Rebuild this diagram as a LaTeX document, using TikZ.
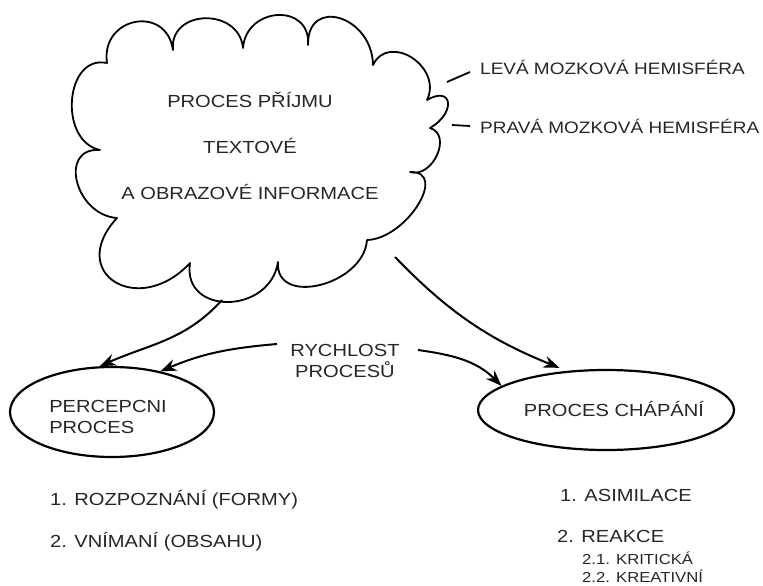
\documentclass[tikz,border=0pt]{standalone}
\usepackage{fontspec}
\setmainfont{Liberation Sans}[FakeStretch=1.15]
\usetikzlibrary{arrows.meta,shapes.geometric}
\tikzset{
  txt/.style={inner sep=0pt, text=black!85, font=\fontsize{17.5}{21}\selectfont},
  smalltxt/.style={inner sep=0pt, text=black!85, font=\fontsize{14.5}{17}\selectfont},
  hemtxt/.style={inner sep=0pt, text=black!85, font=\fontsize{16.5}{20}\selectfont},
  cloudline/.style={line width=1.8pt, line join=round},
  oval/.style={ellipse, draw, line width=2.2pt, inner sep=0pt},
  arr/.style={line width=2pt, -{Stealth[length=16pt,width=12pt]}},
  thin/.style={line width=1.8pt}
}
\begin{document}
\begin{tikzpicture}[x=1pt,y=-1pt]
\useasboundingbox (0,0) rectangle (763,586);
% cloud
\draw[cloudline] (107,63)
 .. controls (100.3,17) and (166.3,4) .. (173,50)
 .. controls (169,9) and (239,7) .. (243,48)
 .. controls (246.3,6) and (311.3,3) .. (308,45)
 .. controls (307.3,-4) and (372.3,16) .. (373,65)
 .. controls (389,32) and (443,67) .. (427,100)
 .. controls (453,85) and (456,113) .. (430,128)
 .. controls (452.7,134.7) and (432.7,178.7) .. (410,172)
 .. controls (449,171) and (406,239) .. (367,240)
 .. controls (363.7,285.3) and (274.7,307.3) .. (278,262)
 .. controls (270,314.7) and (182,315.7) .. (190,263)
 .. controls (138.7,318.3) and (65.7,273.3) .. (117,218)
 .. controls (75,215) and (58,147) .. (100,150)
 .. controls (58,141) and (65,54) .. (107,63) -- cycle;
\node[txt, align=center, font=\fontsize{17.5}{46}\selectfont] (ct) at (250,146)
  {PROCES PŘÍJMU\\TEXTOVÉ\\A OBRAZOVÉ INFORMACE};
% hemispheres
\coordinate (h1a) at (447,82);
\coordinate (h1b) at (470,72);
\coordinate (h2a) at (452,125);
\coordinate (h2b) at (470,126);
\draw[thin] (h1a) -- (h1b);
\draw[thin] (h2a) -- (h2b);
\node[hemtxt, anchor=west] (lev) at (480,67) {LEVÁ MOZKOVÁ HEMISFÉRA};
\node[hemtxt, anchor=west] (prav) at (480,126) {PRAVÁ MOZKOVÁ HEMISFÉRA};
% ellipses
\node[oval, minimum width=204pt, minimum height=90pt] (pe) at (112,412) {};
\node[txt, align=left] (pet) at (108,417) {PERCEPCNI\\PROCES};
\node[oval, minimum width=256pt, minimum height=80pt] (pc) at (606,410) {};
\node[txt] (pct) at (614,409) {PROCES CHÁPÁNÍ};
% speed
\node[txt, align=center] (rp) at (345,361) {RYCHLOST\\PROCESŮ};
\coordinate (cA) at (222,300);
\coordinate (cC) at (395,257);
\coordinate (rA) at (277,344);
\coordinate (rB) at (418,350);
\draw[arr] (cA) to[out=-132,in=24] (pe.105);
\draw[arr] (rA) to[out=185,in=23] (pe.40);
\draw[arr, shorten >=8pt] (cC) to[out=-46,in=158] (pc.135);
\draw[arr] (rB) to[out=-8,in=135] (pc.167);
% lists
\node[txt, anchor=west] (l1) at (50,500) {1. ROZPOZNÁNÍ (FORMY)};
\node[txt, anchor=west] (l2) at (50,542) {2. VNÍMANÍ (OBSAHU)};
\node[txt, anchor=west] (r1) at (560,495) {1. ASIMILACE};
\node[txt, anchor=west] (r2) at (557,536) {2. REAKCE};
\node[smalltxt, anchor=west] (r21) at (582,558) {2.1. KRITICKÁ};
\node[smalltxt, anchor=west] (r22) at (582,576) {2.2. KREATIVNÍ};
\end{tikzpicture}
\end{document}
